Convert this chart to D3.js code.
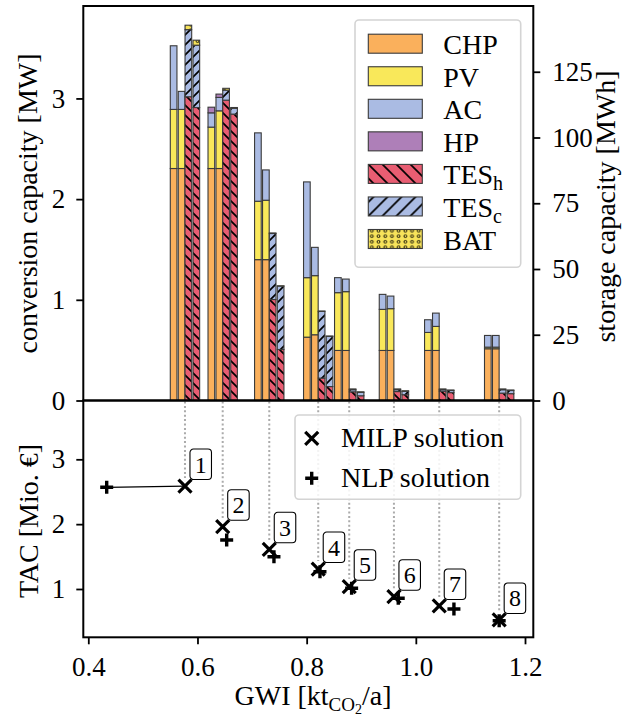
<!DOCTYPE html>
<html>
<head>
<meta charset="utf-8">
<script src="https://cdn.jsdelivr.net/npm/d3@7"></script>
<style>
  body { margin: 0; background: #fff; }
</style>
</head>
<body>
<script>
// ---------------- DATA ----------------
const solutions = ["1", "2", "3", "4", "5", "6", "7", "8"];
const gwiMILP = [0.5771, 0.6462, 0.7315, 0.8212, 0.8780, 0.9599, 1.0429, 1.1527];
const tacMILP = [2.588, 1.961, 1.612, 1.308, 1.035, 0.881, 0.738, 0.522];
const gwiNLP  = [0.4337, 0.6535, 0.7401, 0.8244, 0.8824, 0.9678, 1.0698, 1.1527];
const tacNLP  = [2.568, 1.756, 1.498, 1.267, 1.011, 0.857, 0.692, 0.511];

// conversion capacity [MW]
const chpMILP = [2.304, 2.304, 1.399, 0.629, 0.497, 0.497, 0.497, 0.514];
const pvMILP  = [0.587, 0.411, 0.580, 0.591, 0.574, 0.408, 0.179, 0.016];
const acMILP  = [0.632, 0.142, 0.679, 0.951, 0.149, 0.149, 0.126, 0.116];
const hpMILP  = [0.000, 0.056, 0.000, 0.000, 0.000, 0.000, 0.000, 0.000];
const chpNLP  = [2.304, 2.304, 1.399, 0.653, 0.497, 0.497, 0.497, 0.514];
const pvNLP   = [0.587, 0.573, 0.590, 0.587, 0.584, 0.415, 0.239, 0.016];
const acNLP   = [0.179, 0.133, 0.301, 0.281, 0.125, 0.125, 0.132, 0.116];
const hpNLP   = [0.000, 0.033, 0.000, 0.000, 0.000, 0.000, 0.000, 0.000];

// storage capacity [MWh]
const tesHMILP = [115.5, 114.2, 38.4, 8.5, 3.3, 3.4, 3.5, 2.8];
const tesCMILP = [25.5, 3.8, 25.1, 25.4, 0.8, 0.7, 0.6, 1.3];
const batMILP  = [1.7, 0.7, 0.2, 0.1, 0.3, 0.3, 0.3, 0.3];
const tesHNLP  = [111.4, 108.9, 19.4, 5.3, 1.8, 2.2, 3.0, 2.6];
const tesCNLP  = [23.7, 2.2, 24.1, 19.1, 1.3, 1.3, 0.8, 1.2];
const batNLP   = [1.9, 0.3, 0.1, 0.1, 0.2, 0.2, 0.2, 0.2];

const convTicks = [0, 1, 2, 3];
const storTicks = [0, 25, 50, 75, 100, 125];
const tacTicks = [1, 2, 3];
const gwiTicks = [0.4, 0.6, 0.8, 1.0, 1.2];

// ---------------- STYLE ----------------
const FONT = "Liberation Serif";
const col = { CHP: "#fab05c", PV: "#f9e85a", AC: "#aabbe3", HP: "#ae7fb8", TESh: "#e85d72", TESc: "#aabbe3", BAT: "#f7e35a" };
const barOffsets = [-0.0208, -0.0062, 0.0062, 0.0208];
const barW = 0.0122;

const svg = d3.select("body").append("svg").attr("width", 643).attr("height", 717)
  .attr("font-family", FONT);
const defs = svg.append("defs");

function hatch(id, color, P, dir) {
  const p = defs.append("pattern").attr("id", id).attr("patternUnits", "userSpaceOnUse")
    .attr("width", P).attr("height", P);
  p.append("rect").attr("width", P).attr("height", P).attr("fill", color);
  let d;
  if (dir === "back") d = `M${-P/2},${P/2} L${P/2},${3*P/2} M0,0 L${P},${P} M${P/2},${-P/2} L${3*P/2},${P/2}`;
  else d = `M${-P/2},${P/2} L${P/2},${-P/2} M0,${P} L${P},0 M${P/2},${3*P/2} L${3*P/2},${P/2}`;
  p.append("path").attr("d", d).attr("stroke", "#000").attr("stroke-width", 1.7);
}
hatch("hH", col.TESh, 10, "back");
hatch("hC", col.TESc, 10, "fwd");
hatch("hHL", col.TESh, 14, "back");
hatch("hCL", col.TESc, 14, "fwd");
const dp = defs.append("pattern").attr("id", "dots").attr("patternUnits", "userSpaceOnUse")
  .attr("width", 6.7).attr("height", 5.5);
dp.append("rect").attr("width", 6.7).attr("height", 5.5).attr("fill", col.BAT);
dp.append("circle").attr("cx", 3.35).attr("cy", 2.75).attr("r", 1.4)
  .attr("fill", "none").attr("stroke", "#000").attr("stroke-width", 0.9);

const fill = { CHP: col.CHP, PV: col.PV, AC: col.AC, HP: col.HP, TESh: "url(#hH)", TESc: "url(#hC)", BAT: "url(#dots)" };
const fillL = { CHP: col.CHP, PV: col.PV, AC: col.AC, HP: col.HP, TESh: "url(#hHL)", TESc: "url(#hCL)", BAT: "url(#dots)" };

// ---------------- SCALES ----------------
const L = 83.3, R = 533.3, T = 6, M = 400.5, B = 637.3;
const x = d3.scaleLinear().domain([0.39084, 1.2152]).range([L, R]);
const yConv = d3.scaleLinear().domain([0, 3.918]).range([M, T]);
const ySto = d3.scaleLinear().domain([0, 150]).range([M, T]);
const yTac = d3.scaleLinear().domain([0.255, 3.907]).range([B, M]);

// ---------------- BARS ----------------
const convKeys = ["CHP", "PV", "AC", "HP"];
const stoKeys = ["TESh", "TESc", "BAT"];
const convMILP = solutions.map((s, i) => ({ g: gwiMILP[i], o: barOffsets[0], CHP: chpMILP[i], PV: pvMILP[i], AC: acMILP[i], HP: hpMILP[i] }));
const convNLP  = solutions.map((s, i) => ({ g: gwiMILP[i], o: barOffsets[1], CHP: chpNLP[i], PV: pvNLP[i], AC: acNLP[i], HP: hpNLP[i] }));
const stoMILP  = solutions.map((s, i) => ({ g: gwiMILP[i], o: barOffsets[2], TESh: tesHMILP[i], TESc: tesCMILP[i], BAT: batMILP[i] }));
const stoNLP   = solutions.map((s, i) => ({ g: gwiMILP[i], o: barOffsets[3], TESh: tesHNLP[i], TESc: tesCNLP[i], BAT: batNLP[i] }));

const barsG = svg.append("g");
function drawStack(rows, keys, y) {
  const series = d3.stack().keys(keys)(rows);
  series.forEach(s => {
    barsG.append("g").selectAll("rect").data(s.filter(d => d[1] - d[0] > 0)).join("rect")
      .attr("x", d => x(d.data.g + d.data.o - barW / 2))
      .attr("width", x(barW) - x(0))
      .attr("y", d => y(d[1]))
      .attr("height", d => y(d[0]) - y(d[1]))
      .attr("fill", fill[s.key])
      .attr("stroke", "#3a3a3a").attr("stroke-width", 1.1);
  });
}
drawStack(convMILP, convKeys, yConv);
drawStack(convNLP, convKeys, yConv);
drawStack(stoMILP, stoKeys, ySto);
drawStack(stoNLP, stoKeys, ySto);

// ---------------- BOTTOM PANEL ----------------
const bot = svg.append("g");
bot.selectAll("line.drop").data(solutions).join("line")
  .attr("x1", (d, i) => x(gwiMILP[i])).attr("x2", (d, i) => x(gwiMILP[i]))
  .attr("y1", M + 1).attr("y2", (d, i) => yTac(tacMILP[i]) - 8)
  .attr("stroke", "#ababab").attr("stroke-width", 2).attr("stroke-dasharray", "2 2.4");

bot.append("line")
  .attr("x1", x(gwiNLP[0])).attr("y1", yTac(tacNLP[0]))
  .attr("x2", x(gwiMILP[0])).attr("y2", yTac(tacMILP[0]))
  .attr("stroke", "#000").attr("stroke-width", 1.3);

const crossPath = "M-6.5,-6.5L6.5,6.5M-6.5,6.5L6.5,-6.5";
const plusPath = "M-6.5,0L6.5,0M0,-6.5L0,6.5";
bot.selectAll("path.milp").data(solutions).join("path")
  .attr("d", crossPath).attr("transform", (d, i) => `translate(${x(gwiMILP[i])},${yTac(tacMILP[i])})`)
  .attr("stroke", "#000").attr("stroke-width", 3.2).attr("fill", "none");
bot.selectAll("path.nlp").data(solutions).join("path")
  .attr("d", plusPath).attr("transform", (d, i) => `translate(${x(gwiNLP[i])},${yTac(tacNLP[i])})`)
  .attr("stroke", "#000").attr("stroke-width", 3.4).attr("fill", "none");

const lab = bot.selectAll("g.lab").data(solutions).join("g")
  .attr("transform", (d, i) => `translate(${x(gwiMILP[i]) + 5},${yTac(tacMILP[i]) - 37})`);
lab.append("rect").attr("width", 21.5).attr("height", 30.5).attr("rx", 3.5)
  .attr("fill", "#fff").attr("stroke", "#000").attr("stroke-width", 1.1);
lab.append("text").attr("x", 10.75).attr("y", 23.5).attr("text-anchor", "middle")
  .attr("font-family", FONT).attr("font-size", 24).text(d => d);

// bottom legend
const lg2 = svg.append("g");
lg2.append("rect").attr("x", 295).attr("y", 415).attr("width", 225.7).attr("height", 84.3).attr("rx", 4)
  .attr("fill", "#fff").attr("fill-opacity", 0.85).attr("stroke", "#d4d4d4").attr("stroke-width", 1.6);
lg2.append("path").attr("d", crossPath).attr("transform", "translate(311.7,438.3)")
  .attr("stroke", "#000").attr("stroke-width", 3.2).attr("fill", "none");
lg2.append("path").attr("d", plusPath).attr("transform", "translate(311.7,478.3)")
  .attr("stroke", "#000").attr("stroke-width", 3.4).attr("fill", "none");
lg2.append("text").attr("x", 341).attr("y", 447.3).attr("font-family", FONT).attr("font-size", 28).text("MILP solution");
lg2.append("text").attr("x", 341).attr("y", 487.3).attr("font-family", FONT).attr("font-size", 28).text("NLP solution");

// ---------------- TOP LEGEND ----------------
const legItems = [
  { k: "CHP", t: "CHP" }, { k: "PV", t: "PV" }, { k: "AC", t: "AC" }, { k: "HP", t: "HP" },
  { k: "TESh", t: "TES", s: "h" }, { k: "TESc", t: "TES", s: "c" }, { k: "BAT", t: "BAT" }
];
const lg = svg.append("g");
lg.append("rect").attr("x", 355).attr("y", 20).attr("width", 165.7).attr("height", 247.3).attr("rx", 4)
  .attr("fill", "#fff").attr("fill-opacity", 0.85).attr("stroke", "#d4d4d4").attr("stroke-width", 1.6);
const rowY = d3.scaleLinear().domain([0, 6]).range([43.7, 239]);
const li = lg.selectAll("g.li").data(legItems).join("g").attr("transform", (d, i) => `translate(0,${rowY(i)})`);
li.append("rect").attr("x", 368.3).attr("y", -9.5).attr("width", 54).attr("height", 19)
  .attr("fill", d => fillL[d.k]).attr("stroke", "#3a3a3a").attr("stroke-width", 1.1);
const lt = li.append("text").attr("x", 443.3).attr("y", 10.5).attr("font-family", FONT).attr("font-size", 28);
lt.append("tspan").text(d => d.t);
lt.filter(d => d.s).append("tspan").attr("dy", 6).attr("font-size", 20).text(d => d.s);

// ---------------- FRAMES & AXES ----------------
const fr = svg.append("g").attr("fill", "none").attr("stroke", "#000").attr("stroke-width", 2);
fr.append("rect").attr("x", L).attr("y", T).attr("width", R - L).attr("height", M - T);
fr.append("rect").attr("x", L).attr("y", M).attr("width", R - L).attr("height", B - M);

function styleAxis(g) {
  g.attr("font-family", FONT).attr("font-size", 27);
  g.select(".domain").remove();
  g.selectAll(".tick line").attr("stroke", "#000").attr("stroke-width", 1.8);
  g.selectAll(".tick text").attr("font-family", FONT).attr("font-size", 27).attr("fill", "#000");
}
svg.append("g").attr("transform", `translate(${L},0)`)
  .call(d3.axisLeft(yConv).tickValues(convTicks).tickFormat(d3.format("d")).tickSize(7).tickPadding(11)).call(styleAxis);
svg.append("g").attr("transform", `translate(${R},0)`)
  .call(d3.axisRight(ySto).tickValues(storTicks).tickFormat(d3.format("d")).tickSize(7).tickPadding(12)).call(styleAxis);
svg.append("g").attr("transform", `translate(${L},0)`)
  .call(d3.axisLeft(yTac).tickValues(tacTicks).tickFormat(d3.format("d")).tickSize(7).tickPadding(11)).call(styleAxis);
svg.append("g").attr("transform", `translate(0,${B})`)
  .call(d3.axisBottom(x).tickValues(gwiTicks).tickFormat(d3.format(".1f")).tickSize(7).tickPadding(13)).call(styleAxis);

// axis titles
function title(tr, txt) {
  return svg.append("text").attr("transform", tr).attr("text-anchor", "middle")
    .attr("font-family", FONT).attr("font-size", 28).text(txt);
}
title("translate(37,203.5) rotate(-90)", "conversion capacity [MW]");
title("translate(615,206.5) rotate(-90)", "storage capacity [MWh]");
title("translate(38,521) rotate(-90)", "TAC [Mio. €]");
const gx = svg.append("text").attr("x", 313).attr("y", 705).attr("text-anchor", "middle")
  .attr("font-family", FONT).attr("font-size", 28);
gx.append("tspan").text("GWI [kt");
gx.append("tspan").attr("dy", 6).attr("font-size", 19).text("CO");
gx.append("tspan").attr("dy", 3).attr("font-size", 14).text("2");
gx.append("tspan").attr("dy", -9).attr("font-size", 28).text("/a]");
</script>
</body>
</html>
